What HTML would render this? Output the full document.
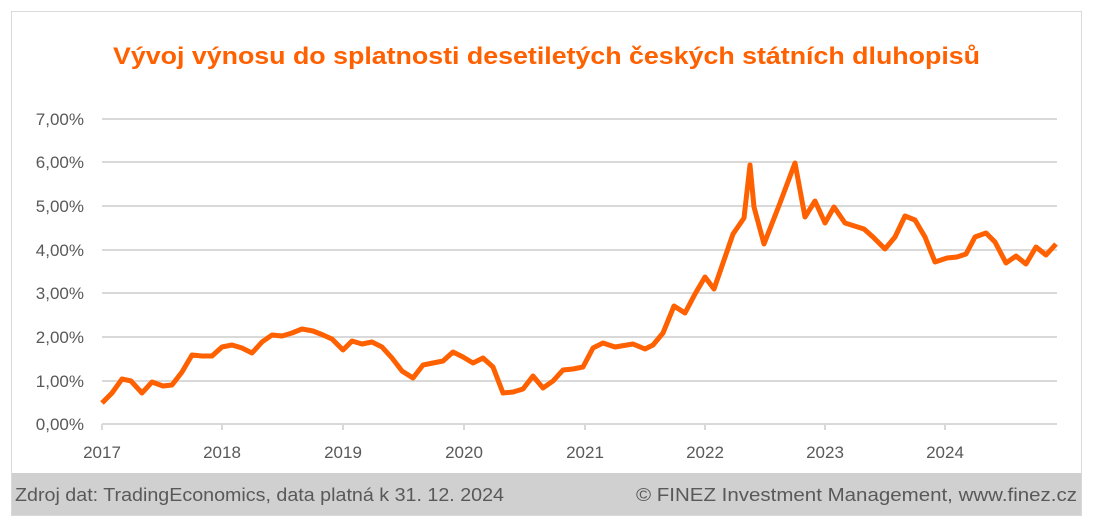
<!DOCTYPE html>
<html><head><meta charset="utf-8"><style>
body{margin:0;background:#fff;width:1095px;height:526px;overflow:hidden;font-family:"Liberation Sans",sans-serif}
</style></head><body>
<svg width="1095" height="526" xmlns="http://www.w3.org/2000/svg" font-family="Liberation Sans, sans-serif">
<rect x="11.5" y="11.5" width="1070" height="504" fill="#fff" stroke="#d9d9d9"/>
<rect x="12" y="473" width="1069" height="42" fill="#d0d0d0"/>
<text x="113" y="64" textLength="867" lengthAdjust="spacingAndGlyphs" font-size="24" font-weight="bold" fill="#ff6000">Vývoj výnosu do splatnosti desetiletých českých státních dluhopisů</text>
<g stroke="#d9d9d9" stroke-width="2">
<line x1="102" x2="1057" y1="119" y2="119"/><line x1="102" x2="1057" y1="162" y2="162"/>
<line x1="102" x2="1057" y1="206" y2="206"/><line x1="102" x2="1057" y1="250" y2="250"/>
<line x1="102" x2="1057" y1="293" y2="293"/><line x1="102" x2="1057" y1="337" y2="337"/>
<line x1="102" x2="1057" y1="381" y2="381"/><line x1="102" x2="1057" y1="424" y2="424"/>
<line x1="102" x2="102" y1="424" y2="430"/><line x1="222" x2="222" y1="424" y2="430"/>
<line x1="343" x2="343" y1="424" y2="430"/><line x1="464" x2="464" y1="424" y2="430"/>
<line x1="585" x2="585" y1="424" y2="430"/><line x1="705" x2="705" y1="424" y2="430"/>
<line x1="825" x2="825" y1="424" y2="430"/><line x1="945" x2="945" y1="424" y2="430"/>
</g>
<g font-size="17" fill="#595959" text-anchor="end">
<text x="84" y="125">7,00%</text><text x="84" y="168">6,00%</text><text x="84" y="212">5,00%</text>
<text x="84" y="256">4,00%</text><text x="84" y="299">3,00%</text><text x="84" y="343">2,00%</text>
<text x="84" y="387">1,00%</text><text x="84" y="430">0,00%</text>
</g>
<g font-size="17" fill="#595959" text-anchor="middle">
<text x="102" y="458">2017</text><text x="222" y="458">2018</text><text x="343" y="458">2019</text>
<text x="464" y="458">2020</text><text x="585" y="458">2021</text><text x="705" y="458">2022</text>
<text x="825" y="458">2023</text><text x="945" y="458">2024</text>
</g>
<polyline fill="none" stroke="#ff6000" stroke-width="5" stroke-linejoin="round" points="102,403 112,393 122,379 131,381 142,393 152,382 163,386 172,385 182,372 192,355 202,356 212,356 222,347 232,345 242,348 252,353 262,342 272,335 282,336 292,333 302,329 313,331 323,335 332,339 343,350 352,341 362,344 372,342 382,347 392,358 402,371 413,378 423,365 433,363 443,361 453,352 463,357 473,363 483,358 493,367 503,393 513,392 523,389 533,376 543,388 553,381 563,370 573,369 583,367 593,348 603,343 615,347 633,344 645,349 653,345 663,333 674,306 685,313 695,294 705,277 714,289 723,263 733,234 744,218 750,165 754,207 764,244 780,203 795,163 805,217 815,201 825,223 834,207 845,223 864,229 873,237 885,249 895,237 905,216 915,220 925,237 935,262 947,258 957,257 966,254 975,237 986,233 995,242 1006,263 1016,256 1026,264 1036,247 1046,255 1056,244"/>
<text x="15" y="501" textLength="489" lengthAdjust="spacingAndGlyphs" font-size="18" fill="#595959">Zdroj dat: TradingEconomics, data platná k 31. 12. 2024</text>
<text x="636" y="501" textLength="441" lengthAdjust="spacingAndGlyphs" font-size="18" fill="#595959">© FINEZ Investment Management, www.finez.cz</text>
</svg>
</body></html>
